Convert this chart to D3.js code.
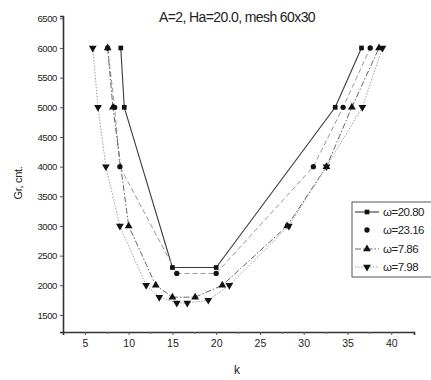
<!DOCTYPE html>
<html>
<head>
<meta charset="utf-8">
<script src="https://cdn.jsdelivr.net/npm/d3@7"></script>
<style>
body{margin:0;background:#fff}
text{font-family:"Liberation Sans",Arial,sans-serif;fill:#222}
</style>
</head>
<body>
<div id="chart"></div>
<script>

// DATA

const seriesNames = ["ω=20.80","ω=23.16","ω=7.86","ω=7.98"]

const k1 = [9.1,9.5,15,20,33.6,36.6]
const gr1 = [6000,5000,2300,2300,5000,6000]

const k2 = [7.6,8.4,9.0,15.5,20,31.1,34.5,37.6]
const gr2 = [6000,5000,4000,2200,2200,4000,5000,6000]

const k3 = [7.6,8.2,10,13.1,15,17.6,20.7,28.1,32.6,35.5,38.6]
const gr3 = [6000,5000,3000,2000,1800,1800,2000,3000,4000,5000,6000]

const k4 = [5.9,6.5,7.4,9.0,12,13.5,15.5,16.7,19.1,21.5,28.3,32.6,36.7,39]
const gr4 = [6000,5000,4000,3000,2000,1800,1700,1700,1750,2000,3000,4000,5000,6000]

const xTicks = [5,10,15,20,25,30,35,40]
const yTicks = [1500,2000,2500,3000,3500,4000,4500,5000,5500,6000,6500]

const title = "A=2, Ha=20.0, mesh 60x30"
const xLabel = "k"
const yLabel = "Gr, cnt."


// -----------------------------
// CHART
// -----------------------------

const width = 431
const height = 380

const svg = d3.select("#chart")
.append("svg")
.attr("width",width)
.attr("height",height)

const x = d3.scaleLinear()
.domain([2.5,42.6])
.range([63,414])

const y = d3.scaleLinear()
.domain([1213,6539])
.range([332,16])

const zip = (ks,gs)=>ks.map((k,i)=>({k:k,gr:gs[i]}))

const series = [
{name:seriesNames[0],data:zip(k1,gr1),symbol:d3.symbolSquare,size:22,stroke:"#3a3a3a",dash:null,width:1.1},
{name:seriesNames[1],data:zip(k2,gr2),symbol:d3.symbolCircle,size:22,stroke:"#999",dash:"5,3",width:1},
{name:seriesNames[2],data:zip(k3,gr3),symbol:d3.symbolTriangle,size:26,stroke:"#666",dash:"6,2,1.5,2",width:1},
{name:seriesNames[3],data:zip(k4,gr4),symbol:"down",size:26,stroke:"#a0a0a0",dash:"1.5,1.5",width:1}
]

function marker(s){
if(s.symbol==="down"){
return d3.symbol().type(d3.symbolTriangle).size(s.size)()
}
return d3.symbol().type(s.symbol).size(s.size)()
}


// AXES

svg.append("g")
.attr("transform",`translate(0,332)`)
.call(d3.axisBottom(x).tickValues(xTicks).tickSize(3).tickPadding(5))
.call(g=>g.select(".domain").attr("stroke","#333").attr("stroke-width",1.6))
.call(g=>g.selectAll(".tick line").attr("stroke","#555"))
.call(g=>g.selectAll("text").attr("font-size",10.5).attr("fill","#222").attr("font-family","Liberation Sans, Arial"))

svg.append("g")
.attr("transform",`translate(0,332)`)
.call(d3.axisBottom(x).tickValues(d3.range(7.5,42,5)).tickSize(2).tickFormat(""))
.call(g=>g.select(".domain").remove())
.call(g=>g.selectAll(".tick line").attr("stroke","#777"))

svg.append("g")
.attr("transform",`translate(63,0)`)
.call(d3.axisLeft(y).tickValues(yTicks).tickFormat(d3.format("d")).tickSize(3).tickPadding(3))
.call(g=>g.select(".domain").attr("stroke","#333").attr("stroke-width",1.6))
.call(g=>g.selectAll(".tick line").attr("stroke","#555"))
.call(g=>g.selectAll("text").attr("font-size",9.5).attr("letter-spacing",-0.4).attr("fill","#222").attr("font-family","Liberation Sans, Arial"))


// LINES

const line = d3.line()
.x(d=>x(d.k))
.y(d=>y(d.gr))

series.forEach(s=>{

svg.append("path")
.datum(s.data)
.attr("fill","none")
.attr("stroke",s.stroke)
.attr("stroke-width",s.width)
.attr("stroke-dasharray",s.dash)
.attr("d",line)

})


// POINTS

series.forEach(s=>{

svg.append("g")
.selectAll("path")
.data(s.data)
.enter()
.append("path")
.attr("d",marker(s))
.attr("transform",d=>`translate(${x(d.k)},${y(d.gr)})`+(s.symbol==="down"?" rotate(180)":""))
.attr("fill","#111")

})


// TITLE + LABELS

svg.append("text")
.attr("x",237)
.attr("y",22)
.attr("text-anchor","middle")
.attr("font-size",14)
.attr("letter-spacing",-0.6)
.text(title)

svg.append("text")
.attr("x",237)
.attr("y",374)
.attr("text-anchor","middle")
.attr("font-size",12)
.text(xLabel)

svg.append("text")
.attr("transform","translate(22,183) rotate(-90)")
.attr("text-anchor","middle")
.attr("font-size",11)
.attr("letter-spacing",-0.3)
.text(yLabel)


// LEGEND

const legend = svg.append("g")

legend.append("rect")
.attr("x",352)
.attr("y",202)
.attr("width",100)
.attr("height",75)
.attr("fill","#fff")
.attr("stroke","#555")
.attr("stroke-width",1)

const rowY = [212,230,249,267]

series.forEach((s,i)=>{

const g = legend.append("g")
.attr("transform",`translate(0,${rowY[i]})`)

if(i!==1){
g.append("line")
.attr("x1",355)
.attr("x2",379)
.attr("stroke",s.stroke)
.attr("stroke-width",s.width)
.attr("stroke-dasharray",s.dash)
}

g.append("path")
.attr("d",marker(s))
.attr("transform",`translate(367,0)`+(s.symbol==="down"?" rotate(180)":""))
.attr("fill","#111")

g.append("text")
.attr("x",383)
.attr("y",4)
.attr("font-size",11.5)
.attr("letter-spacing",-0.5)
.text(s.name)

})

</script>
</body>
</html>
